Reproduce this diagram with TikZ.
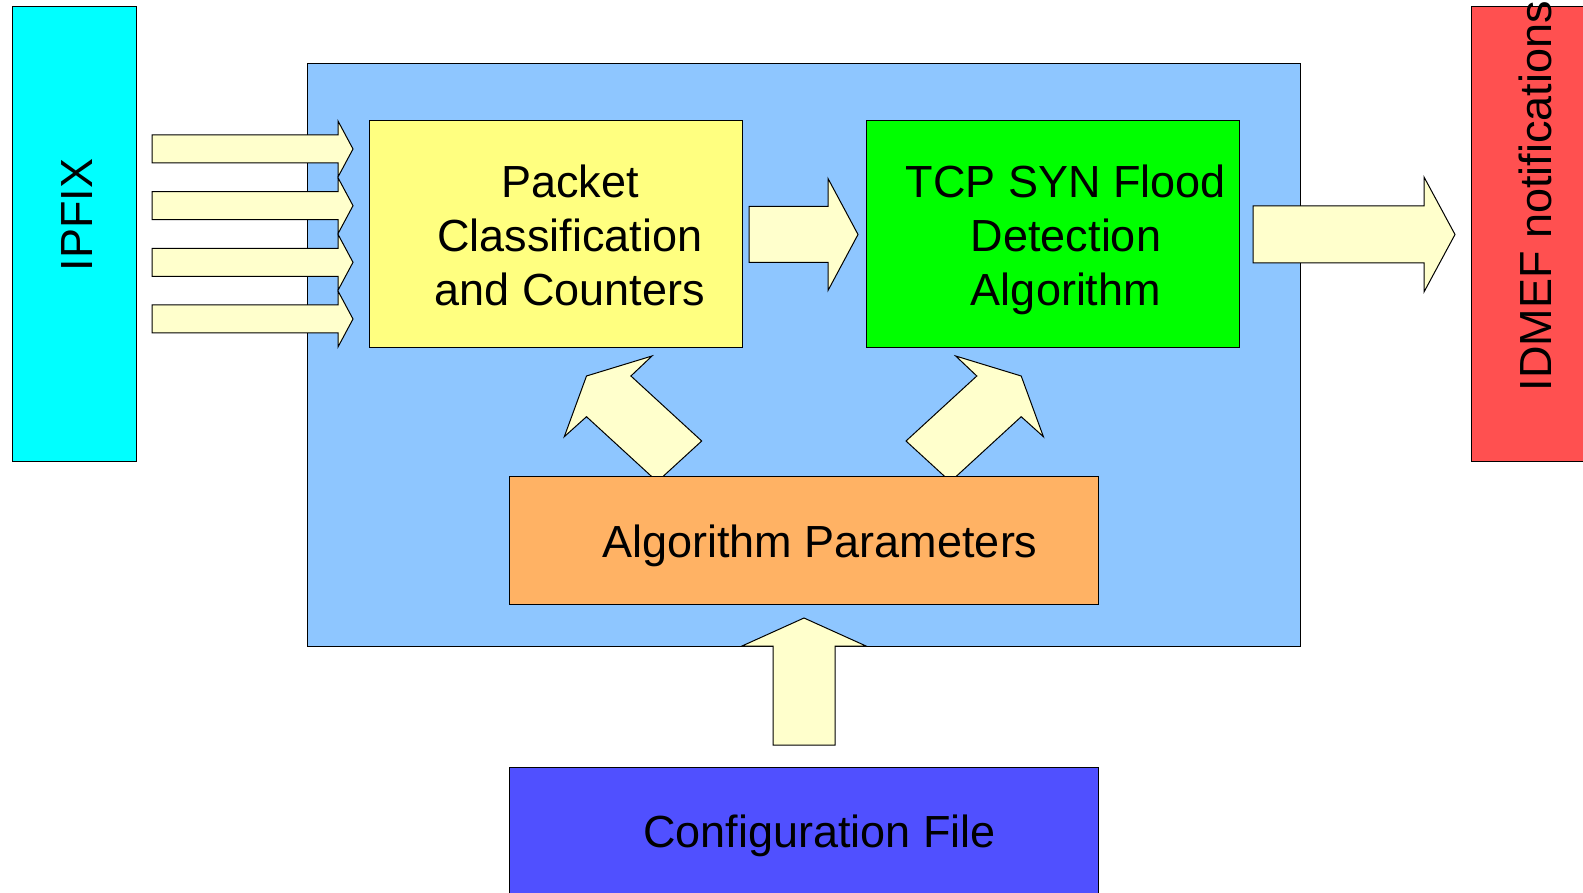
\documentclass[tikz,border=0pt]{standalone}
\usepackage{fontspec}
\setmainfont{Liberation Sans}
\definecolor{ipfixc}{RGB}{0,255,255}
\definecolor{mainc}{RGB}{142,198,255}
\definecolor{pktc}{RGB}{255,255,128}
\definecolor{tcpc}{RGB}{0,255,0}
\definecolor{paramc}{RGB}{255,178,100}
\definecolor{cfgc}{RGB}{80,80,255}
\definecolor{idmefc}{RGB}{255,80,80}
\definecolor{arrowc}{RGB}{255,255,204}
\begin{document}
\begin{tikzpicture}[x=1pt,y=-1pt,
  box/.style={draw=black, line width=1pt, inner sep=0pt, outer sep=0pt},
  blockarrow/.style={draw=black, line width=1pt, fill=arrowc, line join=miter},
  lbl/.style={font=\fontsize{45}{54}\selectfont, align=center, inner sep=0pt}]
\useasboundingbox (0,0) rectangle (1583,893);
% main container
\node[box, fill=mainc, minimum width=993pt, minimum height=582pt] (main) at (803.5,355) {};
% input arrows
\foreach \c in {149,205.7,262.3,319}{
  \draw[blockarrow] (152,\c-14) -- (338,\c-14) -- (338,\c-28) -- (353,\c) -- (338,\c+28) -- (338,\c+14) -- (152,\c+14) -- cycle;
}
% inner boxes
\node[box, fill=pktc, minimum width=373pt, minimum height=227pt] (pkt) at (555.5,234.5) {};
\node[box, fill=tcpc, minimum width=373pt, minimum height=227pt] (tcp) at (1052.5,234.5) {};
% pkt -> tcp
\draw[blockarrow] (749,206.5) -- (828,206.5) -- (828,178.5) -- (858,234.5) -- (828,290.5) -- (828,262.5) -- (749,262.5) -- cycle;
% tcp -> idmef
\draw[blockarrow] (1253,206) -- (1424,206) -- (1424,177) -- (1455,234.5) -- (1424,292) -- (1424,263) -- (1253,263) -- cycle;
% params -> pkt, params -> tcp
\draw[blockarrow] (586.5,376) -- (652,356) -- (630.9,376) -- (701.7,441) -- (657.3,481.7) -- (586.5,416.7) -- (564.3,436.7) -- cycle;
\draw[blockarrow] (1021.2,376) -- (955.7,356) -- (976.8,376) -- (906,441) -- (950.4,481.7) -- (1021.2,416.7) -- (1043.4,436.7) -- cycle;
% parameters box
\node[box, fill=paramc, minimum width=589pt, minimum height=128pt] (param) at (803.5,540) {};
% config -> params
\draw[blockarrow] (804,618) -- (866,646) -- (835,646) -- (835,745) -- (773,745) -- (773,646) -- (742,646) -- cycle;
% outer boxes
\node[box, fill=cfgc, minimum width=589pt, minimum height=143pt] (cfg) at (803.5,838.5) {};
\node[box, fill=ipfixc, minimum width=124pt, minimum height=454pt] (ipfix) at (74,234) {};
\node[box, fill=idmefc, minimum width=129pt, minimum height=454pt] (idmef) at (1535.5,234) {};
% texts
\node[lbl] (pkttext) at (570,235) {Packet\\Classification\\and Counters};
\node[lbl] (tcptext) at (1066,239.5) {TCP SYN Flood\\Detection\\Algorithm};
\node[lbl, anchor=base] (paramtext) at (820,557.5) {Algorithm Parameters};
\node[lbl, anchor=base] (cfgtext) at (819.5,847) {Configuration File};
\node[lbl, anchor=base, rotate=90] (ipfixtext) at (92.7,215) {IPFIX};
\node[lbl, anchor=base, rotate=90] (idmeftext) at (1551.7,196) {IDMEF notifications};
\end{tikzpicture}
\end{document}
